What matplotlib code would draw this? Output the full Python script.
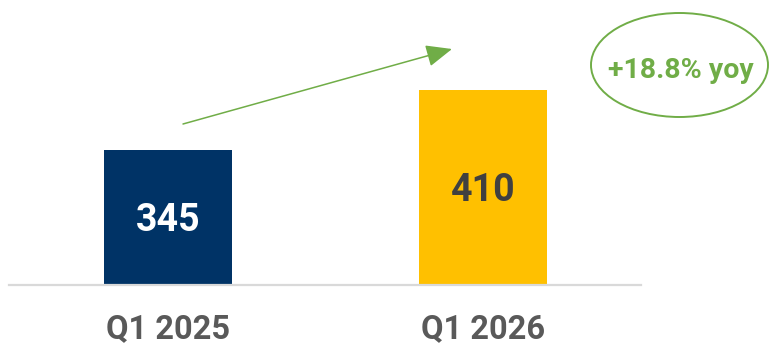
import matplotlib
matplotlib.use("Agg")
import matplotlib.pyplot as plt
from matplotlib.patches import Ellipse, FancyArrowPatch
from matplotlib.transforms import offset_copy

categories = ["Q1 2025", "Q1 2026"]
values = [345, 410]
bar_colors = ["#003366", "#FFC000"]
value_colors = ["#FFFFFF", "#404040"]
growth_label = "+18.8% yoy"

W, H = 771, 344
fig = plt.figure(figsize=(W / 100, H / 100), dpi=100)
fig.patch.set_facecolor("white")

# axes in pixel geometry
ax_left, ax_right, ax_bottom, ax_top = 9, 641, 344 - 285, 344
ax = fig.add_axes([ax_left / W, ax_bottom / H, (ax_right - ax_left) / W, (ax_top - ax_bottom) / H])

xs = list(range(len(categories)))
ax.bar(xs, values, width=0.406, color=bar_colors, zorder=2)
ax.set_xlim(-0.5048, 1.5016)
ymin = 199
ax.set_ylim(ymin, ymin + 285 / 0.923)

for s in ["top", "right", "left"]:
    ax.spines[s].set_visible(False)
ax.spines["bottom"].set_color("#d9d9d9")
ax.spines["bottom"].set_linewidth(1.6)
ax.spines["bottom"].set_zorder(3)
ax.set_yticks([])
ax.set_xticks(xs)
ax.set_xticklabels(categories, fontfamily="Roboto", fontweight="bold", fontsize=23.5, color="#595959")
ax.tick_params(axis="x", length=0, pad=20)

tr = offset_copy(ax.transData, fig=fig, x=0, y=-3, units="dots")
for x, v, c in zip(xs, values, value_colors):
    ax.text(x, (ymin + v) / 2, str(v), ha="center", va="center", fontfamily="Roboto",
            fontweight="bold", fontsize=27, color=c, zorder=4, transform=tr)

green = "#70AD47"
arrow = FancyArrowPatch((183 / W, 1 - 124 / H), (452 / W, 1 - 49 / H), transform=fig.transFigure,
                        arrowstyle="-|>,head_length=1.6,head_width=0.68", mutation_scale=10,
                        color=green, lw=1.1, shrinkA=0, shrinkB=0)
fig.patches.append(arrow)

ell = Ellipse((679.5 / W, 1 - 65 / H), 177 / W, 104 / H, transform=fig.transFigure,
              fill=False, edgecolor=green, lw=1.4)
fig.patches.append(ell)
fig.text(681 / W, 1 - 70 / H, growth_label, ha="center", va="center", fontfamily="Roboto",
         fontweight="bold", fontsize=20.5, color=green)

fig.savefig("out.png", dpi=100)
